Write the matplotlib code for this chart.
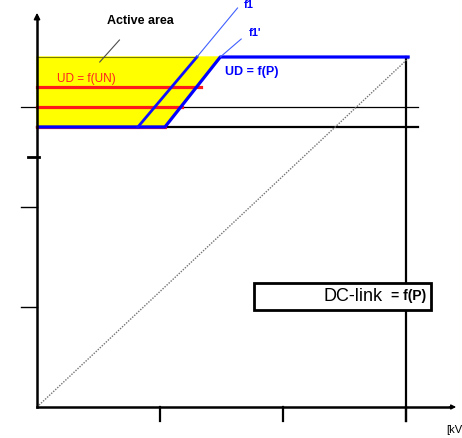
import numpy as np
import matplotlib.pyplot as plt

plt.rcParams['font.family'] = ['Liberation Sans', 'DejaVu Sans']

# diagram values (x in kV units, y in DC-link units)
x_ticks = [1.0, 2.0, 3.0]
y_ticks = [1.0, 2.0]
y_tick_short = 2.5
ud_min, ud_mid, ud_max = 2.8, 3.0, 3.5

# UD = f(P) characteristic (thick blue)
udp_x = [0.0, 1.04, 1.49, 3.03]
udp_y = [2.8, 2.8, 3.5, 3.5]

# f1 lines
f1_x = [0.82, 1.30, 1.63]
f1_y = [2.8, 3.5, 3.99]
f1b_x = [1.04, 1.49, 1.66]
f1b_y = [2.8, 3.5, 3.68]

# UD = f(UN) levels (red)
red_levels = [2.8, 3.0, 3.2]
red_ends = [1.04, 1.18, 1.33]

# active area polygon
area_x = [0.0, 1.49, 1.04, 0.0]
area_y = [3.5, 3.5, 2.8, 2.8]

diag_x = [0.0, 3.03]
diag_y = [0.0, 3.5]

fig = plt.figure(figsize=(4.62, 4.38), dpi=100)
ax = fig.add_axes([0, 0, 1, 1])
ax.set_xlim(-0.301, 3.455)
ax.set_ylim(-0.31, 4.07)
ax.axis('off')

# yellow active area
ax.fill(area_x, area_y, color='#ffff00', zorder=1)
ax.plot([0, 1.30], [3.5, 3.5], color='#7a7a00', lw=0.8, zorder=2)

# black reference lines
ax.plot([-0.13, 3.10], [ud_mid, ud_mid], color='black', lw=0.9, zorder=2)
ax.plot([0, 3.10], [ud_min, ud_min], color='black', lw=1.6, zorder=2)
ax.plot([3.0, 3.0], [-0.14, ud_max], color='black', lw=1.6, zorder=2)

# dotted diagonal
ax.plot(diag_x, diag_y, color='0.45', lw=1.0, ls=(0, (1, 1)), zorder=2)

# red UD = f(UN) lines
for lvl, xe in zip(red_levels, red_ends):
    ax.plot([0, xe], [lvl, lvl], color='#ff1a1a', lw=2.3, zorder=3)

# blue characteristic
ax.plot(udp_x, udp_y, color='#0000ff', lw=2.3, zorder=4, solid_capstyle='butt')
ax.plot(f1_x[:2], f1_y[:2], color='#1010ff', lw=2.0, zorder=4)
ax.plot(f1_x[1:], f1_y[1:], color='#4060ff', lw=0.8, zorder=4)
ax.plot(f1b_x[1:], f1b_y[1:], color='#4060ff', lw=0.8, zorder=4)

# axes
ax.plot([0, 0], [0, 3.9], color='black', lw=1.8, zorder=5)
ax.annotate('', xy=(0, 3.97), xytext=(0, 3.85),
            arrowprops=dict(arrowstyle='-|>', color='black', lw=1.2,
                            mutation_scale=9), zorder=5)
ax.plot([0, 3.36], [0, 0], color='black', lw=1.8, zorder=5)
ax.annotate('', xy=(3.43, 0), xytext=(3.33, 0),
            arrowprops=dict(arrowstyle='-|>', color='black', lw=1.0,
                            mutation_scale=7), zorder=5)

for xt in x_ticks:
    ax.plot([xt, xt], [0, -0.14], color='black', lw=1.6, zorder=5)
for yt in y_ticks:
    ax.plot([-0.13, 0], [yt, yt], color='black', lw=1.0, zorder=5)
ax.plot([-0.075, 0.02], [y_tick_short, y_tick_short], color='black', lw=2.0, zorder=5)

# texts
ax.text(0.84, 3.86, 'Active area', fontsize=9, fontweight='bold',
        ha='center', va='center', zorder=6)
ax.plot([0.51, 0.67], [3.45, 3.67], color='0.3', lw=0.8, zorder=6)
ax.text(0.16, 3.28, 'UD = f(UN)', fontsize=8.5, color='#ff2020',
        ha='left', va='center', zorder=6)
ax.text(1.53, 3.35, 'UD = f(P)', fontsize=9, color='#0000ff', fontweight='bold',
        ha='left', va='center', zorder=6)
ax.text(1.68, 4.02, 'f1', fontsize=8, color='#0000ff', fontweight='bold',
        ha='left', va='center', zorder=6)
ax.text(1.72, 3.74, "f1'", fontsize=8, color='#0000ff', fontweight='bold',
        ha='left', va='center', zorder=6)

# DC-link box
ax.add_patch(plt.Rectangle((1.76, 0.97), 1.44, 0.27, facecolor='white',
                           edgecolor='black', lw=2.0, zorder=6))
ax.text(2.81, 1.105, 'DC-link', fontsize=13, ha='right', va='center', zorder=7)
ax.text(3.165, 1.11, '= f(P)', fontsize=10, fontweight='bold',
        ha='right', va='center', zorder=7)

ax.text(3.33, -0.23, '[kV', fontsize=8, ha='left', va='center', zorder=6)

fig.savefig('out.png', dpi=100)
